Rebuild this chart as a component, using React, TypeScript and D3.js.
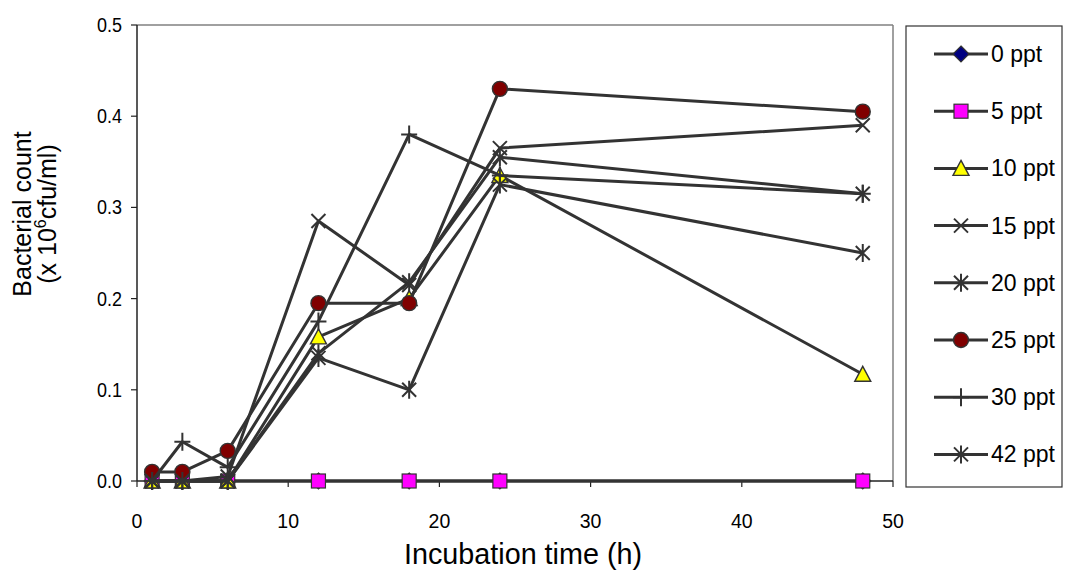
import React from "react";
import * as d3 from "d3";

const times = [1, 3, 6, 12, 18, 24, 48];
const s0 = [0, 0, 0, 0, 0, 0, 0];
const s5 = [0, 0, 0, 0, 0, 0, 0];
const s10 = [0, 0, 0, 0.158, 0.2, 0.335, 0.117];
const s15 = [0, 0, 0.005, 0.285, 0.215, 0.365, 0.39];
const s20 = [0, 0, 0, 0.135, 0.1, 0.325, 0.25];
const s25 = [0.01, 0.01, 0.033, 0.195, 0.195, 0.43, 0.405];
const s30 = [0, 0.043, 0.015, 0.175, 0.38, 0.335, 0.315];
const s42 = [0, 0, 0, 0.14, 0.218, 0.355, 0.315];
const seriesNames = ["0 ppt", "5 ppt", "10 ppt", "15 ppt", "20 ppt", "25 ppt", "30 ppt", "42 ppt"];
const seriesValues = [s0, s5, s10, s15, s20, s25, s30, s42];
const markerTypes = ["diamond", "square", "triangle", "x", "star", "circle", "plus", "star"];
const markerFills = ["#000080", "#FF00FF", "#FFFF00", "none", "none", "#800000", "none", "none"];
const xTicks = [0, 10, 20, 30, 40, 50];
const yTicks = [0, 0.1, 0.2, 0.3, 0.4, 0.5];

const W = 1066, H = 570;
const L = 137, R = 893, T = 25, B = 481;
const LINE = "#333333";
const FONT = "'Liberation Sans', Arial, sans-serif";

function Marker({ type, fill, x, y }: { type: string; fill: string; x: number; y: number }) {
  const st = "#333333";
  switch (type) {
    case "diamond":
      return <path d={`M${x},${y - 8}L${x + 8},${y}L${x},${y + 8}L${x - 8},${y}Z`} fill={fill} stroke={st} strokeWidth={1.2} />;
    case "square":
      return <rect x={x - 7} y={y - 7} width={14} height={14} fill={fill} stroke={st} strokeWidth={1.2} />;
    case "triangle":
      return <path d={`M${x},${y - 8}L${x + 8},${y + 7}L${x - 8},${y + 7}Z`} fill={fill} stroke={st} strokeWidth={1.4} />;
    case "circle":
      return <circle cx={x} cy={y} r={7.5} fill={fill} stroke={st} strokeWidth={1.4} />;
    case "x":
      return <path d={`M${x - 7},${y - 7}L${x + 7},${y + 7}M${x + 7},${y - 7}L${x - 7},${y + 7}`} stroke={st} strokeWidth={2} fill="none" />;
    case "star":
      return <path d={`M${x - 7},${y - 7}L${x + 7},${y + 7}M${x + 7},${y - 7}L${x - 7},${y + 7}M${x},${y - 9}L${x},${y + 9}`} stroke={st} strokeWidth={2} fill="none" />;
    case "plus":
      return <path d={`M${x - 8},${y}L${x + 8},${y}M${x},${y - 9}L${x},${y + 9}`} stroke={st} strokeWidth={2} fill="none" />;
  }
  return null;
}

export default function App() {
  const x = d3.scaleLinear().domain([0, 50]).range([L, R]);
  const y = d3.scaleLinear().domain([0, 0.5]).range([B, T]);
  const line = d3.line<number>().x((_, i) => x(times[i])).y((d) => y(d));
  const legX = 906, legY = 26, legW = 156, legH = 461;
  const legStep = 57.2;
  return (
    <svg width={W} height={H} style={{ position: "absolute", left: 0, top: 0, background: "#fff" }}>
      <rect x={0} y={0} width={W} height={H} fill="#fff" />
      {/* plot frame */}
      <line x1={L} y1={T} x2={R} y2={T} stroke="#808080" strokeWidth={1.5} />
      <line x1={R} y1={T} x2={R} y2={B} stroke="#808080" strokeWidth={1.5} />
      <line x1={L} y1={T} x2={L} y2={B} stroke="#222" strokeWidth={1.5} />
      <line x1={L} y1={B} x2={R} y2={B} stroke="#222" strokeWidth={1.5} />
      {yTicks.map((t) => (
        <g key={"y" + t}>
          <line x1={L - 6} x2={L} y1={y(t)} y2={y(t)} stroke="#222" strokeWidth={1.2} />
          <text x={L - 15} y={y(t) + 7} textAnchor="end" fontSize={19.5} fontFamily={FONT} fill="#000"
            textLength={25} lengthAdjust="spacingAndGlyphs">
            {t.toFixed(1)}
          </text>
        </g>
      ))}
      {xTicks.map((t) => (
        <g key={"x" + t}>
          <line x1={x(t)} x2={x(t)} y1={B} y2={B + 6} stroke="#222" strokeWidth={1.2} />
          <text x={x(t)} y={B + 47} textAnchor="middle" fontSize={19.5} fontFamily={FONT} fill="#000">
            {t}
          </text>
        </g>
      ))}
      {/* series */}
      {seriesValues.map((vals, si) => (
        <g key={"s" + si}>
          <path d={line(vals) || ""} fill="none" stroke={LINE} strokeWidth={3} strokeLinejoin="round" />
          {vals.map((v, i) => (
            <Marker key={i} type={markerTypes[si]} fill={markerFills[si]} x={x(times[i])} y={y(v)} />
          ))}
        </g>
      ))}
      {/* axis titles */}
      <text x={523} y={564} textAnchor="middle" fontSize={29} fontFamily={FONT} fill="#000" textLength={238} lengthAdjust="spacingAndGlyphs">
        Incubation time (h)
      </text>
      <g transform="translate(31,214) rotate(-90)">
        <text x={0} y={0} textAnchor="middle" fontSize={25} fontFamily={FONT} fill="#000">Bacterial count</text>
        <text x={0} y={25} textAnchor="middle" fontSize={25} fontFamily={FONT} fill="#000">
          (x 10<tspan dy={-10} fontSize={16}>6</tspan><tspan dy={10}>cfu/ml)</tspan>
        </text>
      </g>
      {/* legend */}
      <rect x={legX} y={legY} width={legW} height={legH} fill="#fff" stroke="#333" strokeWidth={1.2} />
      {seriesNames.map((n, i) => {
        const ly = 54 + i * legStep;
        return (
          <g key={"l" + i}>
            <line x1={934} x2={988} y1={ly} y2={ly} stroke={LINE} strokeWidth={3} />
            <Marker type={markerTypes[i]} fill={markerFills[i]} x={961} y={ly} />
            <text x={991} y={ly + 8} fontSize={23} fontFamily={FONT} fill="#000">{n}</text>
          </g>
        );
      })}
    </svg>
  );
}
